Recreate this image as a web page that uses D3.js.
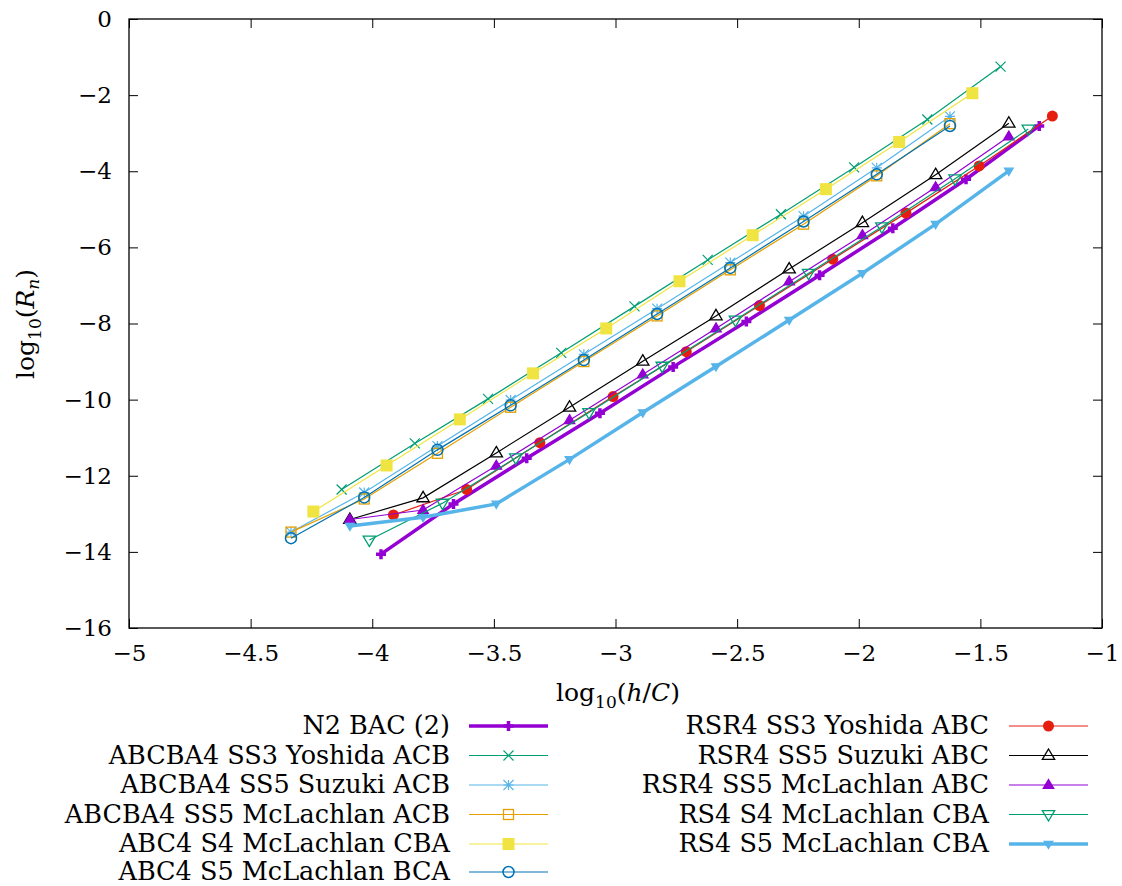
<!DOCTYPE html>
<html><head><meta charset="utf-8">
<script src="https://cdn.jsdelivr.net/npm/d3@7"></script>
<style>
body{margin:0;background:#fff}
</style>
</head><body>
<svg id="chart" width="1122" height="886"></svg>
<script>
// ---------- data ----------
const xTicks = [-5, -4.5, -4, -3.5, -3, -2.5, -2, -1.5, -1];
const yTicks = [0, -2, -4, -6, -8, -10, -12, -14, -16];

const seriesNames = [
  "N2 BAC (2)",
  "ABCBA4 SS3 Yoshida ACB",
  "ABCBA4 SS5 Suzuki ACB",
  "ABCBA4 SS5 McLachlan ACB",
  "ABC4 S4 McLachlan CBA",
  "ABC4 S5 McLachlan BCA",
  "RSR4 SS3 Yoshida ABC",
  "RSR4 SS5 Suzuki ABC",
  "RSR4 SS5 McLachlan ABC",
  "RS4 S4 McLachlan CBA",
  "RS4 S5 McLachlan CBA"
];
const seriesColors = ["#9400d3","#009e73","#56b4e9","#e69f00","#f0e442","#0072b2",
                      "#e51e10","#000000","#9400d3","#009e73","#56b4e9"];
const seriesMarkers = ["plus","cross","star","squareOpen","squareFill","circleOpen",
                       "circleFill","triUpOpen","triUpFill","triDownOpen","triDownFill"];
const seriesWidths = [3.5,1.2,1.2,1.2,1.2,1.2,1.2,1.2,1.2,1.2,3.5];

const n2X = [-3.964, -3.666, -3.365, -3.064, -2.763, -2.462, -2.161, -1.860, -1.559, -1.258];
const n2Y = [-14.06, -12.74, -11.54, -10.36, -9.14, -7.95, -6.73, -5.50, -4.21, -2.81];

const yoshidaAcbX = [-4.126, -3.825, -3.524, -3.223, -2.922, -2.621, -2.320, -2.019, -1.718, -1.417];
const yoshidaAcbY = [-12.36, -11.15, -9.98, -8.77, -7.55, -6.33, -5.13, -3.90, -2.64, -1.25];

const ss5X = [-4.334, -4.033, -3.732, -3.431, -3.130, -2.829, -2.528, -2.227, -1.926, -1.625];
const suzukiAcbY = [-13.48, -12.44, -11.22, -10.01, -8.81, -7.61, -6.40, -5.18, -3.91, -2.56];
const mclachlanAcbY = [-13.48, -12.61, -11.41, -10.20, -9.00, -7.80, -6.59, -5.39, -4.12, -2.75];
const abc4S5Y = [-13.64, -12.57, -11.32, -10.15, -8.96, -7.75, -6.54, -5.32, -4.08, -2.81];

const abc4S4X = [-4.242, -3.941, -3.640, -3.339, -3.038, -2.737, -2.436, -2.135, -1.834, -1.533];
const abc4S4Y = [-12.94, -11.73, -10.52, -9.31, -8.13, -6.89, -5.68, -4.47, -3.23, -1.95];

const rsrYoshidaX = [-3.913, -3.612, -3.311, -3.010, -2.709, -2.408, -2.107, -1.806, -1.505, -1.204];
const rsrYoshidaY = [-13.03, -12.36, -11.13, -9.92, -8.74, -7.53, -6.31, -5.10, -3.86, -2.55];

const rsrSS5X = [-4.092, -3.791, -3.490, -3.189, -2.888, -2.587, -2.286, -1.985, -1.684, -1.383];
const rsrSuzukiY = [-13.15, -12.58, -11.40, -10.20, -8.99, -7.80, -6.57, -5.35, -4.09, -2.74];
const rsrMclachlanY = [-13.15, -12.90, -11.74, -10.54, -9.34, -8.13, -6.90, -5.68, -4.42, -3.09];

const rs4S4X = [-4.012, -3.711, -3.410, -3.109, -2.808, -2.507, -2.206, -1.905, -1.604, -1.303];
const rs4S4Y = [-13.69, -12.72, -11.53, -10.34, -9.12, -7.91, -6.68, -5.46, -4.20, -2.89];

const rs4S5X = [-4.092, -3.791, -3.490, -3.189, -2.888, -2.587, -2.286, -1.985, -1.684, -1.383];
const rs4S5Y = [-13.32, -13.09, -12.74, -11.57, -10.34, -9.13, -7.91, -6.68, -5.39, -3.99];

const seriesXs = [n2X, yoshidaAcbX, ss5X, ss5X, abc4S4X, ss5X, rsrYoshidaX, rsrSS5X, rsrSS5X, rs4S4X, rs4S5X];
const seriesYs = [n2Y, yoshidaAcbY, suzukiAcbY, mclachlanAcbY, abc4S4Y, abc4S5Y, rsrYoshidaY, rsrSuzukiY, rsrMclachlanY, rs4S4Y, rs4S5Y];

// ---------- layout ----------
const FONT = "DejaVu Serif, Liberation Serif, Noto Serif, serif";
const svg = d3.select("#chart");
const L = 129, R = 1102, T = 19, B = 628;
const x = d3.scaleLinear().domain([-5, -1]).range([L, R]);
const y = d3.scaleLinear().domain([-16, 0]).range([B, T]);
const fmt = d => d3.format("")(d);

const tickFont = 23;
function styleAxis(g){
  g.attr("font-family", FONT);
  g.select(".domain").remove();
  g.selectAll(".tick line").attr("stroke","#000").attr("stroke-width",1);
  g.selectAll(".tick text").attr("font-size", tickFont).attr("fill","#000")
    .style("font-family", FONT);
}
svg.append("g").attr("transform",`translate(0,${B})`)
  .call(d3.axisBottom(x).tickValues(xTicks).tickSize(-9).tickPadding(17).tickFormat(fmt)).call(styleAxis);
svg.append("g").attr("transform",`translate(0,${T})`)
  .call(d3.axisTop(x).tickValues(xTicks).tickSize(-9).tickFormat("")).call(styleAxis);
svg.append("g").attr("transform",`translate(${L},0)`)
  .call(d3.axisLeft(y).tickValues(yTicks).tickSize(-9).tickPadding(17).tickFormat(fmt)).call(styleAxis);
svg.append("g").attr("transform",`translate(${R},0)`)
  .call(d3.axisRight(y).tickValues(yTicks).tickSize(-9).tickFormat("")).call(styleAxis);

svg.append("rect").attr("x",L).attr("y",T).attr("width",R-L).attr("height",B-T)
  .attr("fill","none").attr("stroke","#000").attr("stroke-width",1.3);

// axis labels
const xl = svg.append("text").attr("x",618).attr("y",701).attr("text-anchor","middle")
  .style("font-family", FONT).attr("font-size",25);
xl.append("tspan").text("log");
xl.append("tspan").attr("dy",7).attr("font-size",17).text("10");
xl.append("tspan").attr("dy",-7).text("(");
xl.append("tspan").attr("font-style","italic").text("h");
xl.append("tspan").text("/");
xl.append("tspan").attr("font-style","italic").text("C");
xl.append("tspan").text(")");

const yl = svg.append("text").attr("transform","translate(34,324) rotate(-90)").attr("text-anchor","middle")
  .style("font-family", FONT).attr("font-size",25);
yl.append("tspan").text("log");
yl.append("tspan").attr("dy",7).attr("font-size",17).text("10");
yl.append("tspan").attr("dy",-7).text("(");
yl.append("tspan").attr("font-style","italic").text("R");
yl.append("tspan").attr("dy",5).attr("font-size",17).attr("font-style","italic").text("n");
yl.append("tspan").attr("dy",-5).text(")");

// ---------- markers ----------
function marker(g, type, cx, cy, color){
  const s = 5;
  switch(type){
    case "plus":
      g.append("path").attr("d",`M${cx-s},${cy}H${cx+s}M${cx},${cy-s}V${cy+s}`)
        .attr("stroke",color).attr("stroke-width",3.5).attr("fill","none"); break;
    case "cross":
      g.append("path").attr("d",`M${cx-s},${cy-s}L${cx+s},${cy+s}M${cx-s},${cy+s}L${cx+s},${cy-s}`)
        .attr("stroke",color).attr("stroke-width",1.2).attr("fill","none"); break;
    case "star":
      g.append("path").attr("d",`M${cx-s},${cy}H${cx+s}M${cx},${cy-s}V${cy+s}M${cx-s},${cy-s}L${cx+s},${cy+s}M${cx-s},${cy+s}L${cx+s},${cy-s}`)
        .attr("stroke",color).attr("stroke-width",1.2).attr("fill","none"); break;
    case "squareOpen":
      g.append("rect").attr("x",cx-5).attr("y",cy-5).attr("width",10).attr("height",10)
        .attr("stroke",color).attr("stroke-width",1.3).attr("fill","none"); break;
    case "squareFill":
      g.append("rect").attr("x",cx-6).attr("y",cy-6).attr("width",12).attr("height",12)
        .attr("fill",color); break;
    case "circleOpen":
      g.append("circle").attr("cx",cx).attr("cy",cy).attr("r",5.5)
        .attr("stroke",color).attr("stroke-width",1.5).attr("fill","none"); break;
    case "circleFill":
      g.append("circle").attr("cx",cx).attr("cy",cy).attr("r",5.5).attr("fill",color); break;
    case "triUpOpen":
    case "triUpFill": {
      const h = type==="triUpFill" ? 5.5 : 6.5;
      g.append("path").attr("d",`M${cx},${cy-h}L${cx+h*0.95},${cy+h*0.6}L${cx-h*0.95},${cy+h*0.6}Z`)
        .attr("stroke",color).attr("stroke-width",1.3)
        .attr("fill", type==="triUpFill"?color:"none"); break;
    }
    case "triDownOpen":
    case "triDownFill": {
      const h = type==="triDownFill" ? 4.5 : 6.5;
      g.append("path").attr("d",`M${cx},${cy+h}L${cx+h*0.95},${cy-h*0.6}L${cx-h*0.95},${cy-h*0.6}Z`)
        .attr("stroke",color).attr("stroke-width",1.3)
        .attr("fill", type==="triDownFill"?color:"none"); break;
    }
  }
}

// ---------- series ----------
const line = d3.line().x(d => x(d[0])).y(d => y(d[1]));
const plot = svg.append("g");
seriesNames.forEach((name, i) => {
  const pts = seriesXs[i].map((v, k) => [v, seriesYs[i][k]]);
  const g = plot.append("g");
  g.append("path").datum(pts).attr("d", line).attr("fill","none")
    .attr("stroke", seriesColors[i]).attr("stroke-width", seriesWidths[i]);
  pts.forEach(p => marker(g, seriesMarkers[i], x(p[0]), y(p[1]), seriesColors[i]));
});

// ---------- legend ----------
const legendFont = 25.5;
const rowY = [726, 755.5, 785, 814.5, 844, 872];
seriesNames.forEach((name, i) => {
  const col = i < 6 ? 0 : 1;
  const row = i < 6 ? i : i - 6;
  const textR = col === 0 ? 450 : 989;
  const lx0 = col === 0 ? 469 : 1009;
  const lx1 = lx0 + 79;
  const yy = rowY[row];
  const g = svg.append("g");
  g.append("text").attr("x", textR).attr("y", yy).attr("dy","0.33em").attr("text-anchor","end")
    .style("font-family", FONT).attr("font-size", legendFont).text(name);
  g.append("line").attr("x1", lx0).attr("x2", lx1).attr("y1", yy).attr("y2", yy)
    .attr("stroke", seriesColors[i]).attr("stroke-width", seriesWidths[i]);
  marker(g, seriesMarkers[i], (lx0 + lx1) / 2, yy, seriesColors[i]);
});
</script>
</body></html>
